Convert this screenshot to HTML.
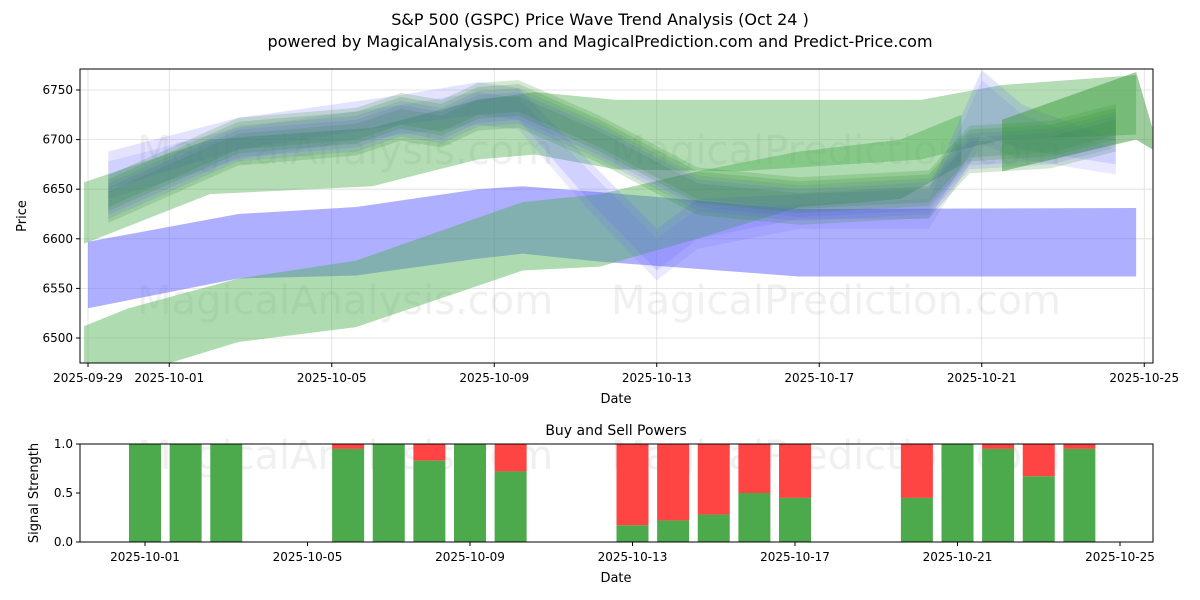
<!DOCTYPE html>
<html><head><meta charset="utf-8">
<style>
body{margin:0;background:#fff;}
svg{display:block;font-family:"DejaVu Sans","Liberation Sans",sans-serif;}
</style></head>
<body>
<svg id="chart" width="1200" height="600" viewBox="0 0 1200 600" xmlns="http://www.w3.org/2000/svg">
<text x="600" y="25" font-size="16" text-anchor="middle">S&amp;P 500 (GSPC) Price Wave Trend Analysis (Oct 24 )</text>
<text x="600" y="47" font-size="16" text-anchor="middle">powered by MagicalAnalysis.com and MagicalPrediction.com and Predict-Price.com</text>
<g id="topPanel"></g>
<g id="bottomPanel"></g>
</svg>
<script>
// ---- data ----
const xTickLabels = ["2025-09-29","2025-10-01","2025-10-05","2025-10-09","2025-10-13","2025-10-17","2025-10-21","2025-10-25"];
const xTickDays = [0,2,6,10,14,18,22,26];
const yTicks = [6500,6550,6600,6650,6700,6750];
const blueLowDays  = [0,3.7,6.6,9.6,10.7,12.6,17.5,25.8];
const blueLowUpper = [6597,6625,6632,6650,6653,6647,6630,6631];
const blueLowLower = [6530,6560,6563,6580,6585,6577,6562,6562];
const greenLowDays  = [-0.1,1,3.7,6.6,10.7,12.6,15,17.5,20,21.5];
const greenLowUpper = [6512,6530,6560,6578,6637,6645,6668,6688,6700,6725];
const greenLowLower = [6470,6462,6496,6511,6568,6572,6600,6632,6640,6675];
const greenWideDays  = [-0.1,3,7,9.6,11,13,16,20.5,22.5,25.8];
const greenWideUpper = [6657,6700,6712,6740,6748,6740,6740,6740,6755,6765];
const greenWideLower = [6595,6645,6653,6680,6685,6670,6668,6680,6700,6705];
const coreDays   = [0.5,3.7,6.6,7.7,8.7,9.6,10.6,12.6,15,17.5,20.7,21.7,23.7,25.3];
const coreCenter = [6640,6698,6708,6723,6716,6733,6736,6700,6648,6638,6645,6690,6695,6712];
const coreOffsets = [-8,0,8,-4,4];
const blueSpikeDays   = [0.5,3.7,7.7,9.6,10.6,12.3,14,15,17.5,20.7,22,23,25.3];
const blueSpikeUpper  = [6688,6722,6745,6758,6752,6680,6610,6640,6645,6650,6770,6735,6700];
const blueSpikeLower  = [6650,6690,6715,6725,6720,6640,6568,6600,6620,6620,6705,6690,6675];
const greenEndDays  = [22.5,25.8,26.2];
const greenEndUpper = [6720,6768,6712];
const greenEndLower = [6668,6700,6690];
const barDays = [2,3,4,7,8,9,10,11,14,15,16,17,18,21,22,23,24,25];
const buyPower = [1,1,1,0.95,1,0.83,1,0.72,0.17,0.22,0.28,0.5,0.45,0.45,1,0.95,0.67,0.95];
const sigTicks = [0,0.5,1];

// ---- scales ----
const T={l:80,r:1153,t:69,b:363}, B={l:80,r:1153,t:444,b:542};
const xTop = d => 88 + d*40.625;
const yTop = v => 338 - (v-6500)*(248/250);
const xBot = d => 145 + (d-2)*40.625;
const yBot = v => 542 - v*98;
const NS="http://www.w3.org/2000/svg";
function mk(tag, parent, attrs, txt){const e=document.createElementNS(NS,tag);for(const k in attrs)e.setAttribute(k,attrs[k]);if(txt!==undefined)e.textContent=txt;parent.appendChild(e);return e;}
const topG=document.getElementById('topPanel'), botG=document.getElementById('bottomPanel');

mk('rect',topG,{x:T.l,y:T.t,width:T.r-T.l,height:T.b-T.t,fill:'#fff'});
const clip=mk('clipPath',topG,{id:'clipTop'});mk('rect',clip,{x:T.l,y:T.t,width:T.r-T.l,height:T.b-T.t});
xTickDays.forEach((d,i)=>{const x=xTop(d);
 const g=mk('line',topG,{x1:x,x2:x,y1:T.t,y2:T.b,stroke:'#ddd','stroke-width':0.8});
 
 
 mk('line',topG,{x1:x,x2:x,y1:T.b,y2:T.b+4,stroke:'#000'});
 const t=mk('text',topG,{x:x,y:T.b+19,'font-size':12,'text-anchor':'middle'},xTickLabels[i]);
 
 });
yTicks.forEach(v=>{const y=yTop(v);
 const g=mk('line',topG,{x1:T.l,x2:T.r,y1:y,y2:y,stroke:'#ddd','stroke-width':0.8});
 
 
 mk('line',topG,{x1:T.l-4,x2:T.l,y1:y,y2:y,stroke:'#000'});
 const t=mk('text',topG,{x:T.l-7,y:y+4,'font-size':12,'text-anchor':'end'},v);
 
 });

[[345,150,'MagicalAnalysis.com'],[836,150,'MagicalPrediction.com'],[345,300,'MagicalAnalysis.com'],[836,300,'MagicalPrediction.com'],[345,455,'MagicalAnalysis.com'],[836,455,'MagicalPrediction.com']].forEach(w=>{
 const t=mk('text',topG,{x:w[0],y:w[1]+14,'font-size':40,'text-anchor':'middle',fill:'#888','fill-opacity':0.13},w[2]);
 
 });

const bands=mk('g',topG,{'clip-path':'url(#clipTop)'});
function band(days,up,lo,color,op,name,off){off=off||0;
 let pts=days.map((d,i)=>xTop(d)+','+yTop(up[i]+off));
 pts=pts.concat(days.map((d,i)=>xTop(d)+','+yTop(lo[i]+off)).reverse());
 const p=mk('polygon',bands,{points:pts.join(' '),fill:color,'fill-opacity':op});
 
 }
band(greenWideDays,greenWideUpper,greenWideLower,'#4caf50',0.42,'green-wide-band');
band(blueLowDays,blueLowUpper,blueLowLower,'#6666ff',0.52,'blue-low-band');
band(greenLowDays,greenLowUpper,greenLowLower,'#4caf50',0.45,'green-low-band');
band(blueSpikeDays,blueSpikeUpper,blueSpikeLower,'#6666ff',0.18,'blue-spike-band');
band(blueSpikeDays,blueSpikeUpper,blueSpikeLower,'#6666ff',0.14,'blue-spike-band',-10);
coreOffsets.forEach((o,k)=>{
 const up=coreCenter.map(c=>c+16), lo=coreCenter.map(c=>c-16);
 band(coreDays,up,lo,k%2?'#5555ee':'#2e8b2e',k%2?0.14:0.2,'core-wave-band',o);});
band(greenEndDays,greenEndUpper,greenEndLower,'#3a9a3a',0.5,'green-end-band');
mk('rect',topG,{x:T.l,y:T.t,width:T.r-T.l,height:T.b-T.t,fill:'none',stroke:'#000','stroke-width':1});
const xt1=mk('text',topG,{x:616,y:403,'font-size':13,'text-anchor':'middle'},'Date');

const yt1=mk('text',topG,{x:26,y:216,'font-size':13,'text-anchor':'middle',transform:'rotate(-90 26 216)'},'Price');


const st=mk('text',botG,{x:616,y:435,'font-size':14,'text-anchor':'middle'},'Buy and Sell Powers');

barDays.forEach((d,i)=>{const x=xBot(d)-16;
 const r=mk('rect',botG,{x:x,y:yBot(1),width:32,height:yBot(buyPower[i])-yBot(1),fill:'#ff4444'});
 
 
 const g=mk('rect',botG,{x:x,y:yBot(buyPower[i]),width:32,height:yBot(0)-yBot(buyPower[i]),fill:'#4caa4c'});
 
 });
[2,6,10,14,18,22,26].forEach((d,i)=>{const x=xBot(d);
 mk('line',botG,{x1:x,x2:x,y1:B.b,y2:B.b+4,stroke:'#000'});
 const t=mk('text',botG,{x:x,y:B.b+19,'font-size':12,'text-anchor':'middle'},xTickLabels[i+1]);
 
 });
sigTicks.forEach(v=>{const y=yBot(v);
 mk('line',botG,{x1:B.l-4,x2:B.l,y1:y,y2:y,stroke:'#000'});
 const t=mk('text',botG,{x:B.l-7,y:y+4,'font-size':12,'text-anchor':'end'},v.toFixed(1));
 
 });
mk('rect',botG,{x:B.l,y:B.t,width:B.r-B.l,height:B.b-B.t,fill:'none',stroke:'#000','stroke-width':1});
const xt2=mk('text',botG,{x:616,y:582,'font-size':13,'text-anchor':'middle'},'Date');

const yt2=mk('text',botG,{x:38,y:493,'font-size':13,'text-anchor':'middle',transform:'rotate(-90 38 493)'},'Signal Strength');

</script>
</body></html>
